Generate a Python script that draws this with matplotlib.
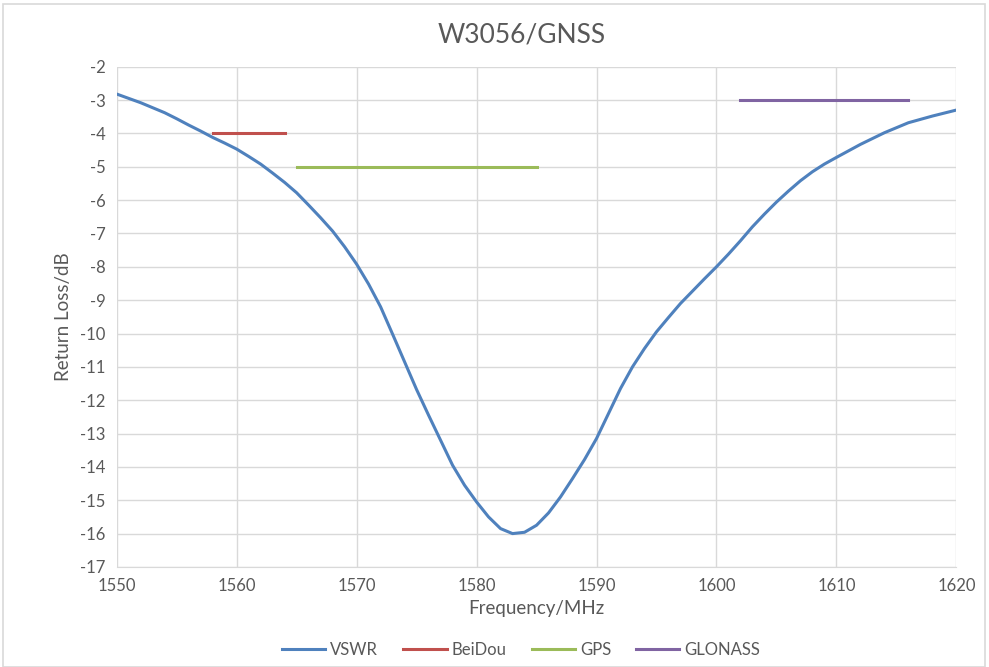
import matplotlib
matplotlib.use('Agg')
import matplotlib.pyplot as plt
from matplotlib.patches import Rectangle

# 回波损耗曲线 (MHz, dB)
freq = [1550, 1552, 1554, 1555, 1556, 1557, 1558, 1559, 1560, 1561, 1562, 1563, 1564,
        1565, 1566, 1567, 1568, 1569, 1570, 1571, 1572, 1573, 1574, 1575, 1576,
        1577, 1578, 1579, 1580, 1581, 1582, 1583, 1584, 1585, 1586, 1587, 1588,
        1589, 1590, 1591, 1592, 1593, 1594, 1595, 1596, 1597, 1598, 1599, 1600,
        1601, 1602, 1603, 1604, 1605, 1606, 1607, 1608, 1609, 1610, 1612, 1614,
        1616, 1618, 1620]
rl = [-2.82, -3.08, -3.38, -3.56, -3.75, -3.93, -4.12, -4.29, -4.47, -4.69, -4.92, -5.19, -5.47,
      -5.78, -6.15, -6.53, -6.93, -7.4, -7.92, -8.52, -9.2, -10.02, -10.85, -11.68, -12.45,
      -13.2, -13.95, -14.55, -15.05, -15.5, -15.85, -16.0, -15.96, -15.75, -15.38, -14.9, -14.35,
      -13.78, -13.15, -12.4, -11.65, -11.0, -10.45, -9.95, -9.52, -9.1, -8.73, -8.36, -8.0,
      -7.62, -7.22, -6.8, -6.42, -6.06, -5.73, -5.42, -5.15, -4.92, -4.72, -4.33, -3.98,
      -3.68, -3.48, -3.3]

# 频段标记
beidou_f = [1558, 1564]
beidou_v = [-4, -4]
gps_f = [1565, 1585]
gps_v = [-5, -5]
glonass_f = [1602, 1616]
glonass_v = [-3, -3]

xticks = list(range(1550, 1621, 10))
yticks = list(range(-17, -1))

plt.rcParams['font.family'] = ['Lato', 'DejaVu Sans']
plt.rcParams['axes.unicode_minus'] = False
txt = '#595959'
grid = '#d9d9d9'

fig = plt.figure(figsize=(9.89, 6.67), dpi=100)
ax = fig.add_axes([0.118, 0.150, 0.849, 0.750])

ax.plot(freq, rl, color='#4f81bd', lw=2.2, label='VSWR', solid_joinstyle='round')
ax.plot(beidou_f, beidou_v, color='#c0504d', lw=2.2, label='BeiDou')
ax.plot(gps_f, gps_v, color='#9bbb59', lw=2.2, label='GPS')
ax.plot(glonass_f, glonass_v, color='#8064a2', lw=2.2, label='GLONASS')

ax.set_xlim(1550, 1620)
ax.set_ylim(-17, -2)
ax.set_xticks(xticks)
ax.set_yticks(yticks)
ax.grid(True, color=grid, lw=1)
ax.set_axisbelow(True)
for s in ax.spines.values():
    s.set_visible(False)
ax.spines['bottom'].set_visible(True)
ax.spines['bottom'].set_color(grid)
ax.tick_params(length=0, labelsize=12, colors=txt, pad=8)

ax.set_xlabel('Frequency/MHz', fontsize=13.5, color=txt, labelpad=4)
ax.set_ylabel('Return Loss/dB', fontsize=13.5, color=txt, labelpad=6)
fig.text(0.527, 0.948, 'W3056/GNSS', ha='center', va='center', fontsize=19, color=txt)

fig.legend(loc='center', bbox_to_anchor=(0.527, 0.025), ncol=4, frameon=False,
           fontsize=12, labelcolor=txt, handlelength=2.6, columnspacing=1.5, handletextpad=0.3)

fig.patches.append(Rectangle((0.003, 0.0), 0.993, 0.994, transform=fig.transFigure,
                             fill=False, edgecolor=grid, lw=1.2))

fig.savefig('out.png', dpi=100)
